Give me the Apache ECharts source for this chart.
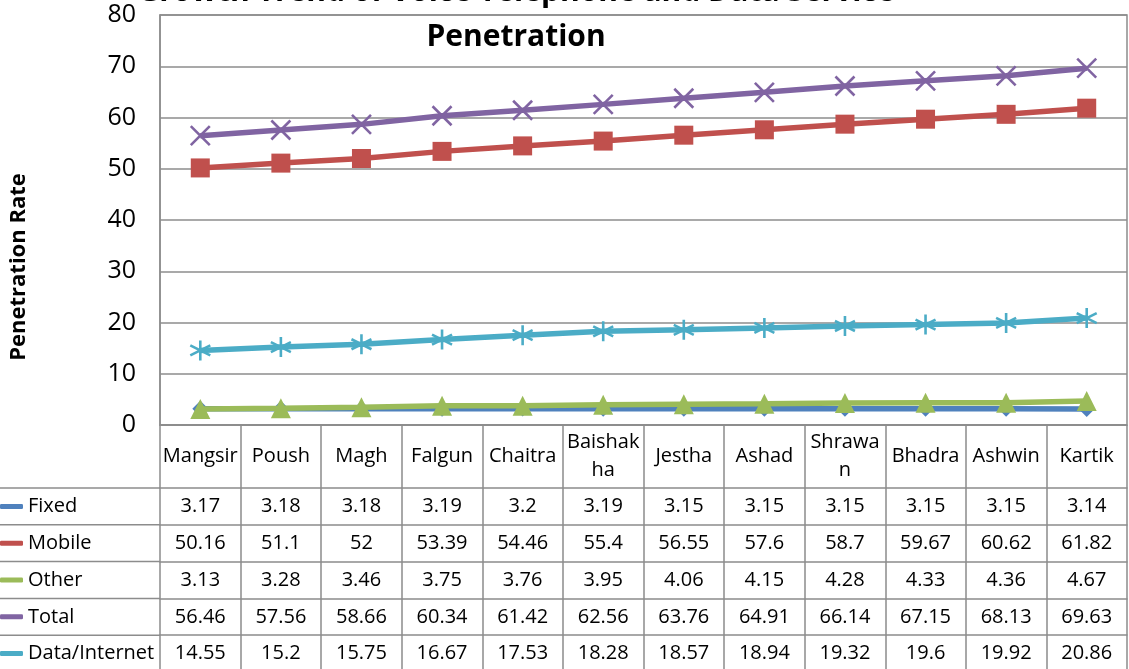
<!DOCTYPE html>
<html>
<head>
<meta charset="utf-8">
<script src="https://cdn.jsdelivr.net/npm/echarts@6/dist/echarts.min.js"></script>
<style>
  html, body { margin: 0; padding: 0; background: #fff; }
  #chart { width: 1129px; height: 669px; }
</style>
</head>
<body>
<div id="chart"></div>
<script>
// ---- data ----
const categories = ['Mangsir','Poush','Magh','Falgun','Chaitra','Baishakha','Jestha','Ashad','Shrawan','Bhadra','Ashwin','Kartik'];
const tickLabels = ['Mangsir','Poush','Magh','Falgun','Chaitra','Baishak\nha','Jestha','Ashad','Shrawa\nn','Bhadra','Ashwin','Kartik'];
const seriesNames = ['Fixed','Mobile','Other','Total','Data/Internet'];
const fixed  = [3.17,3.18,3.18,3.19,3.2,3.19,3.15,3.15,3.15,3.15,3.15,3.14];
const mobile = [50.16,51.1,52,53.39,54.46,55.4,56.55,57.6,58.7,59.67,60.62,61.82];
const other  = [3.13,3.28,3.46,3.75,3.76,3.95,4.06,4.15,4.28,4.33,4.36,4.67];
const total  = [56.46,57.56,58.66,60.34,61.42,62.56,63.76,64.91,66.14,67.15,68.13,69.63];
const dataInternet = [14.55,15.2,15.75,16.67,17.53,18.28,18.57,18.94,19.32,19.6,19.92,20.86];
const yTicks = { min: 0, max: 80, interval: 10 };
const titleLines = ['Growth Trend of Voice Telephone and Data Service', 'Penetration'];
const yAxisTitle = 'Penetration Rate';

// ---- style / layout ----
const values = [fixed, mobile, other, total, dataInternet];
const colors = ['#4F81BD','#C0504D','#9BBB59','#8064A2','#4BACC6'];
const FONT = "'Open Sans', 'Noto Sans', sans-serif";
const GRID = { left: 160, right: 2, top: 15, bottom: 244 };
const plotBottom = 669 - GRID.bottom; // 425
const headerH = 63;
const rowH = 36.8;
const lineColor = '#8c8c8c';

const xSymbol = 'path://M0,0L10,10M10,0L0,10';
const starSymbol = 'path://M5,0L5,10M0.67,2.5L9.33,7.5M0.67,7.5L9.33,2.5';
const symbols = ['diamond','rect','triangle', xSymbol, starSymbol];
const symbolSizes = [16, 19, 20, 19, 20];

const series = seriesNames.map((name, i) => {
  const isPath = i >= 3;
  return {
    name: name,
    type: 'line',
    data: values[i],
    symbol: symbols[i],
    symbolSize: symbolSizes[i],
    showAllSymbol: true,
    lineStyle: { color: colors[i], width: 5.5 },
    itemStyle: isPath
      ? { color: 'rgba(0,0,0,0)', borderColor: colors[i], borderWidth: 2.6 }
      : { color: colors[i], borderColor: colors[i], borderWidth: 0 },
    emphasis: { disabled: true },
    z: 2 + i
  };
});

const xAxes = [{
  type: 'category',
  data: categories,
  position: 'bottom',
  boundaryGap: true,
  axisLine: { show: true, lineStyle: { color: lineColor, width: 1.5 } },
  axisTick: { show: true, interval: 0, length: headerH + rowH * 5 + 5, lineStyle: { color: lineColor, width: 1.5 } },
  axisLabel: {
    interval: 0, margin: headerH / 2, verticalAlign: 'middle', align: 'center',
    fontFamily: FONT, fontSize: 20, color: '#000', lineHeight: 28,
    formatter: (v, idx) => tickLabels[idx]
  },
  splitLine: { show: false }
}];
values.forEach((arr, i) => {
  xAxes.push({
    type: 'category',
    data: arr.map(String),
    position: 'bottom',
    offset: headerH + rowH * i,
    boundaryGap: true,
    axisLine: { show: true, onZero: false, lineStyle: { color: lineColor, width: 1.5 } },
    axisTick: { show: false },
    axisLabel: {
      interval: 0, margin: rowH / 2, verticalAlign: 'middle', align: 'center',
      fontFamily: FONT, fontSize: 20, color: '#000'
    },
    splitLine: { show: false }
  });
});

const graphics = [
  { type: 'text', x: 516, y: -8, silent: true,
    style: { text: titleLines[0], fontFamily: FONT, fontWeight: 'bold', fontSize: 30, fill: '#000', align: 'center', verticalAlign: 'middle' } },
  { type: 'text', x: 516, y: 37, silent: true,
    style: { text: titleLines[1], fontFamily: FONT, fontWeight: 'bold', fontSize: 30, fill: '#000', align: 'center', verticalAlign: 'middle' } },
  { type: 'text', x: 19, y: 267, rotation: Math.PI / 2, silent: true,
    style: { text: yAxisTitle, fontFamily: FONT, fontWeight: 'bold', fontSize: 22, fill: '#000', align: 'center', verticalAlign: 'middle' } }
];
for (let i = 0; i < 5; i++) {
  const y = plotBottom + headerH + rowH * i;
  graphics.push({ type: 'line', silent: true, shape: { x1: 0, y1: y, x2: GRID.left, y2: y },
    style: { stroke: lineColor, lineWidth: 1.5 } });
}

const option = {
  animation: false,
  backgroundColor: '#fff',
  grid: { left: GRID.left, right: GRID.right, top: GRID.top, bottom: GRID.bottom,
          show: true, borderColor: lineColor, borderWidth: 1.5, containLabel: false },
  legend: {
    data: seriesNames.map((n, i) => ({ name: n, itemStyle: { color: colors[i], borderWidth: 0 } })),
    orient: 'vertical',
    left: 0,
    top: plotBottom + headerH + (rowH - 20) / 2,
    padding: 0,
    itemGap: rowH - 20,
    itemWidth: 23,
    itemHeight: 5,
    icon: 'roundRect',
    selectedMode: false,
    textStyle: { fontFamily: FONT, fontSize: 20, color: '#000', lineHeight: 20 }
  },
  xAxis: xAxes,
  yAxis: {
    type: 'value',
    min: yTicks.min, max: yTicks.max, interval: yTicks.interval,
    axisLine: { show: true, lineStyle: { color: lineColor, width: 1.5 } },
    axisTick: { show: false },
    axisLabel: { fontFamily: FONT, fontSize: 25, color: '#000', margin: 24 },
    splitLine: { show: true, lineStyle: { color: lineColor, width: 1.5 } }
  },
  graphic: graphics,
  series: series
};

const chart = echarts.init(document.getElementById('chart'), null, { renderer: 'canvas' });
chart.setOption(option);
</script>
</body>
</html>
